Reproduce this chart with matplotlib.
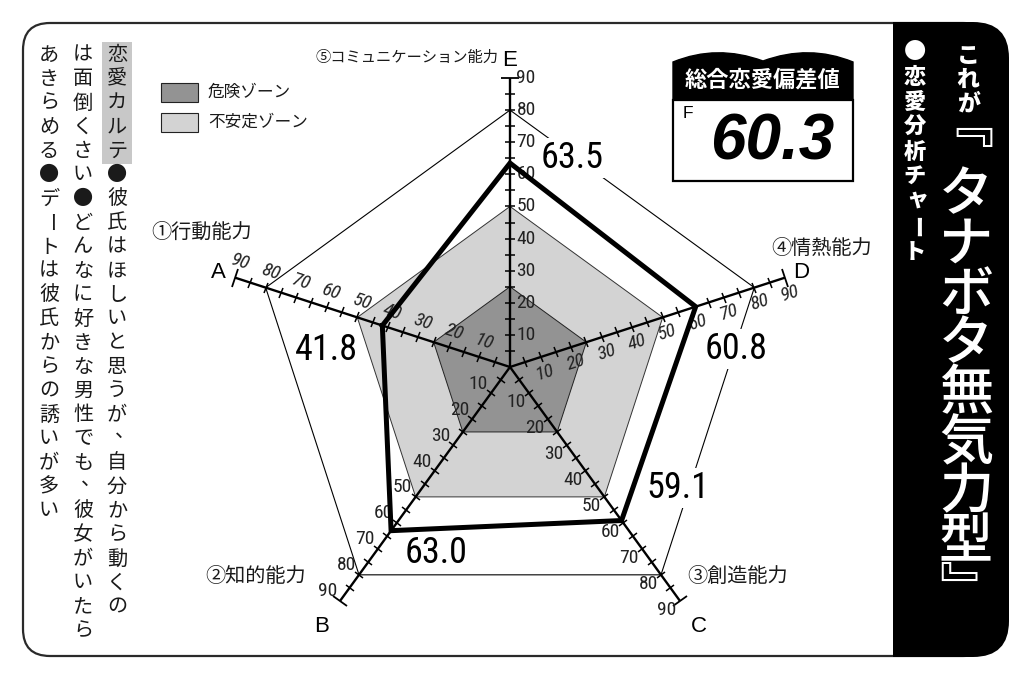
import numpy as np
import matplotlib
matplotlib.use('Agg')
import matplotlib.pyplot as plt
from matplotlib.markers import MarkerStyle
from matplotlib.transforms import Affine2D
from matplotlib.patches import FancyBboxPatch, Rectangle, PathPatch
from matplotlib.path import Path
from matplotlib import font_manager as fm

# ---------------- data ----------------
axis_letters = ['A', 'B', 'C', 'D', 'E']
axis_names = ['①行動能力', '②知的能力', '③創造能力', '④情熱能力', '⑤コミュニケーション能力']
axis_angles_deg = [162, 234, 306, 18, 90]
scores = [41.8, 63.0, 59.1, 60.8, 63.5]
score_labels = ['41.8', '63.0', '59.1', '60.8', '63.5']
danger_level = 25
unstable_level = 50
outer_level = 80
axis_max = 90
tick_values = [10, 20, 30, 40, 50, 60, 70, 80, 90]
minor_ticks = [5, 10, 15, 20, 25, 30, 35, 40, 45, 50, 55, 60, 65, 70, 75, 80, 85]
legend_labels = ['危険ゾーン', '不安定ゾーン']
total_title = '総合恋愛偏差値'
total_rank = 'F'
total_score = '60.3'
title_small = 'これが'
title_big = '﹃タナボタ無気力型﹄'
subtitle = '●恋愛分析チャート'
karte_cols = ['恋愛カルテ●彼氏はほしいと思うが、自分から動くの',
              'は面倒くさい●どんなに好きな男性でも、彼女がいたら',
              'あきらめる●デートは彼氏からの誘いが多い']

# ---------------- style ----------------
W, H, DPI = 1032, 680, 100
names = {f.name for f in fm.fontManager.ttflist}
if 'Liberation Sans Narrow' in names:
    NARROW = dict(family='Liberation Sans Narrow')
    VAL_FS, TICK_FS = 27, 14
elif 'Roboto Condensed' in names:
    NARROW = dict(family='Roboto Condensed')
    VAL_FS, TICK_FS = 26, 14
else:
    p = fm.findfont(fm.FontProperties(family='DejaVu Sans', stretch='condensed'))
    if 'Condensed' in p:
        NARROW = dict(family='DejaVu Sans', fontstretch='condensed')
        VAL_FS, TICK_FS = 24, 12.5
    else:
        NARROW = dict(family='Liberation Sans')
        VAL_FS, TICK_FS = 23.5, 11.5

CJK = ['Noto Sans CJK JP', 'Noto Sans CJK SC', 'DejaVu Sans']
DARK = '#939393'
LIGHT = '#d3d3d3'
PX = 0.72  # points per pixel

fig = plt.figure(figsize=(W / DPI, H / DPI), dpi=DPI)
fig.patch.set_facecolor('white')
bg = fig.add_axes([0, 0, 1, 1])
bg.set_xlim(0, W)
bg.set_ylim(H, 0)
bg.axis('off')

# frame and right panel
bg.add_patch(FancyBboxPatch((23, 23), 990 - 23, 656 - 23,
                            boxstyle='round,pad=0,rounding_size=27',
                            fc='white', ec='#2a2a2a', lw=1.6))
bg.add_patch(FancyBboxPatch((893, 22), 1009 - 893, 657 - 22,
                            boxstyle='round,pad=0,rounding_size=36',
                            fc='black', ec='black', lw=0))
bg.add_patch(Rectangle((893, 22), 60, 657 - 22, fc='black', ec='none'))


def vtext(x, y0, s, pitch, **kw):
    for i, ch in enumerate(s):
        y = y0 + i * pitch
        rot, dx, dy = 0, 0, 0
        if ch == 'ー':
            rot = -90
        if ch == '﹃':
            dy = -0.4 * pitch
        if ch in '、。':
            dx, dy = pitch * 0.32, -pitch * 0.3
        if ch in 'ャュョッァィゥェォゃゅょっ':
            dx, dy = pitch * 0.1, -pitch * 0.1
        bg.text(x + dx, y + dy, ch, rotation=rot, ha='center', va='center', **kw)


# left column text
bg.add_patch(Rectangle((102, 42), 30, 122, fc='#c8c8c8', ec='none'))
col_x = [117, 83, 49]
for cx_, s in zip(col_x, karte_cols):
    vtext(cx_, 55, s, 24, fontsize=14.5, family=CJK, color='#1a1a1a')

# right panel texts
vtext(968, 57, title_small, 23.5, fontsize=16.5, family=CJK, color='white', fontweight='heavy')
vtext(915, 52, subtitle, 25, fontsize=16, family=CJK, color='white', fontweight='heavy')
vtext(966, 146, title_big, 49.5, fontsize=39, family=CJK, color='white', fontweight='medium')

# legend
bg.add_patch(Rectangle((161, 83), 37, 19, fc=DARK, ec='#222', lw=0.8))
bg.add_patch(Rectangle((161, 113), 37, 19, fc=LIGHT, ec='#222', lw=0.8))
bg.text(208, 92, legend_labels[0], fontsize=12, family=CJK, va='center', ha='left', color='#1a1a1a')
bg.text(208, 122, legend_labels[1], fontsize=12, family=CJK, va='center', ha='left', color='#1a1a1a')

# score box
verts = [(673, 101), (673, 62), (717, 44), (763, 61), (809, 44), (853, 62), (853, 101), (673, 101)]
codes = [Path.MOVETO, Path.LINETO, Path.CURVE3, Path.CURVE3, Path.CURVE3, Path.CURVE3,
         Path.LINETO, Path.CLOSEPOLY]
bg.add_patch(PathPatch(Path(verts, codes), fc='black', ec='black', lw=1))
bg.add_patch(Rectangle((673, 100), 180, 81, fc='white', ec='black', lw=1.6))
bg.text(763, 80, total_title, fontsize=16, family=CJK, fontweight='bold', color='white',
        ha='center', va='center')
bg.text(688, 114, total_rank, fontsize=12.5, family=['Liberation Sans', 'DejaVu Sans'],
        ha='center', va='center')
bg.text(772, 142, total_score, fontsize=46, family=['Liberation Sans', 'DejaVu Sans'],
        fontweight='bold', fontstyle='italic', ha='center', va='center')

# category names
name_pos = [(202, 232, 'center'), (256, 576, 'center'), (738, 576, 'center'),
            (822, 249, 'center'), (498, 57, 'right')]
for nm, (x, y, ha) in zip(axis_names, name_pos):
    fs = 11 if len(nm) > 6 else 14.5
    bg.text(x, y, nm, fontsize=fs, family=CJK, ha=ha, va='center', color='#1a1a1a')

# ---------------- radar (polar axes) ----------------
cx, cy, R = 510, 367, 289
ax = fig.add_axes([(cx - R) / W, (H - cy - R) / H, 2 * R / W, 2 * R / H], projection='polar')
ax.set_ylim(0, axis_max)
ax.set_axis_off()

theta = np.deg2rad(axis_angles_deg)
tc = np.append(theta, theta[0])


def ring(level):
    return np.full(len(tc), level, dtype=float)


ax.fill(tc, ring(unstable_level), color=LIGHT, zorder=1, lw=0)
ax.plot(tc, ring(unstable_level), color='#333', lw=0.7, zorder=1.1)
ax.fill(tc, ring(danger_level), color=DARK, zorder=1.2, lw=0)
ax.plot(tc, ring(danger_level), color='#222', lw=0.7, zorder=1.3)
ax.plot(tc, ring(outer_level), color='black', lw=0.8, zorder=1.4, clip_on=False)

for th, a in zip(theta, axis_angles_deg):
    ax.plot([th, th], [0, axis_max], color='black', lw=1.7, zorder=2, clip_on=False,
            solid_capstyle='butt')
    mk = MarkerStyle('_', transform=Affine2D().rotate_deg(a + 90))
    ax.plot([th] * len(minor_ticks), minor_ticks, ls='none', marker=mk, ms=7.5,
            mew=1.1, color='black', zorder=2.1, clip_on=False)
    ax.plot([th], [axis_max], ls='none', marker=mk, ms=13, mew=1.3, color='black',
            zorder=2.1, clip_on=False)
    # tick labels on the clockwise side of the axis
    pr = np.deg2rad(a - 90)
    ox, oy = 16 * np.cos(pr) * PX, 16 * np.sin(pr) * PX
    if a in (162, 18):
        rot, style = (a - 180 if a > 90 else a), 'italic'
    else:
        rot, style = 0, 'normal'
    for v in tick_values:
        ax.annotate(str(v), xy=(th, v), xytext=(ox, oy), textcoords='offset points',
                    ha='center', va='center', fontsize=TICK_FS, fontstyle=style,
                    rotation=rot, color='#222', annotation_clip=False, **NARROW)

# score polygon
sc = np.append(scores, scores[0])
ax.plot(tc, sc, color='black', lw=3.6, zorder=3, solid_joinstyle='miter', clip_on=False)

# value labels
label_off = [(-55.4, -24.5), (44.9, -22.3), (56.4, 32.5), (40.3, -42.3), (62, 5)]
for th, v, lab, (dx, dy) in zip(theta, scores, score_labels, label_off):
    ax.annotate(lab, xy=(th, v), xytext=(dx * PX, dy * PX), textcoords='offset points',
                ha='center', va='center', fontsize=VAL_FS, color='black',
                zorder=5, annotation_clip=False,
                bbox=dict(boxstyle='square,pad=0.05', fc='white', ec='none'), **NARROW)

# axis letters
letter_r = [95.5, 100, 100, 95.5, 95.5]
for th, L, r in zip(theta, axis_letters, letter_r):
    ax.text(th, r, L, fontsize=16, family=['Liberation Sans', 'DejaVu Sans'],
            ha='center', va='center', clip_on=False)

fig.savefig('out.png', dpi=DPI, facecolor='white')
